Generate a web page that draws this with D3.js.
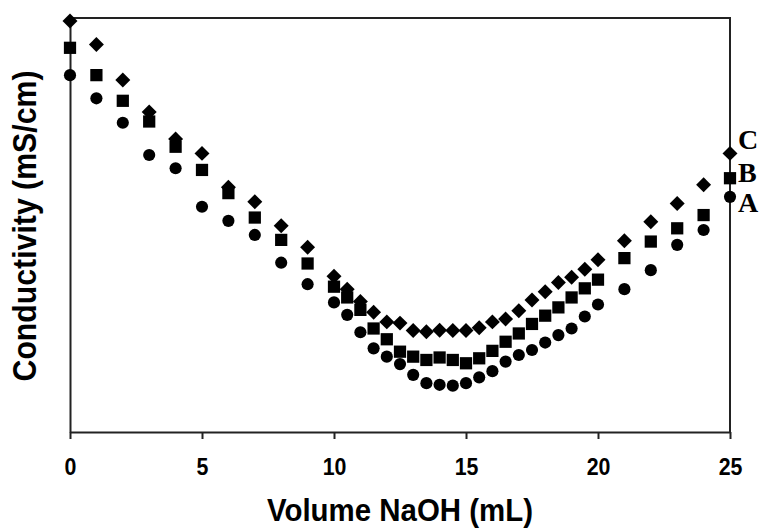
<!DOCTYPE html>
<html>
<head>
<meta charset="utf-8">
<style>
  body { margin: 0; background: #fff; }
  svg { display: block; }
  .axis path, .axis line { stroke: #222; stroke-width: 2; }
  .axis text { font-family: "Liberation Sans", Arial, sans-serif; font-weight: bold; font-size: 24px; fill: #000; }
  .label { font-family: "Liberation Sans", Arial, sans-serif; font-weight: bold; font-size: 34px; fill: #000; }
  .title-x { font-size: 32px; }
  .tag { font-family: "Liberation Serif", "Times New Roman", serif; font-weight: bold; font-size: 28px; fill: #000; }
</style>
</head>
<body>
<svg width="762" height="529"></svg>
<script src="https://cdn.jsdelivr.net/npm/d3@7/dist/d3.min.js"></script>
<script>

// volume of NaOH added (mL)
var volume = [0, 1, 2, 3, 4, 5, 6, 7, 8, 9, 10, 10.5, 11, 11.5, 12, 12.5, 13, 13.5, 14, 14.5,
              15, 15.5, 16, 16.5, 17, 17.5, 18, 18.5, 19, 19.5, 20, 21, 22, 23, 24, 25];

// conductivity, arbitrary units (no y tick labels on the original)
var seriesA = [86.2, 80.6, 74.7, 66.9, 63.7, 54.4, 51.0, 47.6, 40.9, 35.7, 31.3, 28.3, 24.1, 20.2, 18.2, 16.4,
               13.8, 11.8, 11.4, 11.2, 11.8, 13.2, 14.7, 17.0, 18.6, 19.8, 21.6, 23.4, 25.0, 27.9, 30.8,
               34.5, 39.1, 45.2, 48.8, 56.8];
var seriesB = [92.8, 86.2, 80.0, 75.0, 68.9, 63.3, 57.7, 51.8, 46.4, 40.7, 35.1, 32.5, 29.5, 25.0, 22.4, 19.4,
               18.2, 17.4, 18.0, 17.4, 16.6, 17.8, 19.6, 21.8, 23.8, 26.1, 28.1, 30.1, 32.5, 34.7, 36.8,
               42.0, 46.0, 49.2, 52.4, 61.3];
var seriesC = [99.3, 93.6, 85.0, 77.3, 70.8, 67.3, 59.1, 55.6, 49.8, 44.6, 37.6, 34.5, 31.5, 28.9, 26.6, 26.3,
               24.5, 24.2, 24.6, 24.5, 24.5, 25.2, 26.6, 27.3, 29.3, 31.9, 33.9, 36.1, 37.4, 39.3, 41.6,
               46.2, 50.8, 55.2, 59.7, 67.3];

var xTicks = [0, 5, 10, 15, 20, 25];
var seriesNames = ["A", "B", "C"];

var svg = d3.select("svg"),
    margin = {top: 18, right: 32, bottom: 97, left: 70},
    width = svg.attr("width") - margin.left - margin.right,
    height = svg.attr("height") - margin.top - margin.bottom,
    g = svg.append("g").attr("transform", "translate(" + margin.left + "," + margin.top + ")");

var x = d3.scaleLinear().domain([0, 25]).range([0, width]),
    y = d3.scaleLinear().domain([0, 100]).range([height, 0]);

// frame: top and right plain lines
g.append("path")
    .attr("fill", "none")
    .attr("stroke", "#222")
    .attr("stroke-width", 2)
    .attr("d", "M0,0H" + width + "V" + height);

g.append("g")             //xAxis
    .attr("class", "axis axis--x")
    .attr("transform", "translate(0," + height + ")")
    .call(d3.axisBottom(x).tickValues(xTicks).tickSize(7).tickSizeOuter(0).tickFormat(d3.format("d")))
  .selectAll("text")
    .attr("y", 43)
    .attr("dy", "0")
    .attr("transform", "scale(0.89,1)");

g.append("g")             //yAxis, no ticks
    .attr("class", "axis axis--y")
    .call(d3.axisLeft(y).tickValues([]).tickSizeOuter(0));

var sym = {
  A: d3.symbol().type(d3.symbolCircle).size(116),
  B: d3.symbol().type(d3.symbolSquare).size(150),
  C: d3.symbol().type(d3.symbolSquare).size(112)
};
var rot = {A: 0, B: 0, C: 45};
var values = {A: seriesA, B: seriesB, C: seriesC};

seriesNames.forEach(function(name) {
  g.append("g")
      .attr("class", "series series-" + name)
    .selectAll("path")
    .data(volume.map(function(v, i) { return {v: v, c: values[name][i]}; }))
    .enter().append("path")
      .attr("fill", "#000")
      .attr("d", sym[name]())
      .attr("transform", function(d) {
        return "translate(" + x(d.v) + "," + y(d.c) + ") rotate(" + rot[name] + ")";
      });
});

// series tags at right end
var tagY = {C: 149, B: 181.5, A: 211.5};
seriesNames.forEach(function(name) {
  svg.append("text")
      .attr("class", "tag")
      .attr("x", 738)
      .attr("y", tagY[name])
      .text(name);
});

// axis titles
svg.append("g")
    .attr("transform", "translate(" + (margin.left + width / 2) + ",521)")
  .append("text")
    .attr("class", "label title-x")
    .attr("text-anchor", "middle")
    .attr("transform", "scale(0.92,1)")
    .text("Volume NaOH (mL)");

svg.append("g")
    .attr("transform", "translate(36,226) rotate(-90)")
  .append("text")
    .attr("class", "label")
    .attr("text-anchor", "middle")
    .attr("transform", "scale(0.89,1)")
    .text("Conductivity (mS/cm)");

</script>
</body>
</html>
